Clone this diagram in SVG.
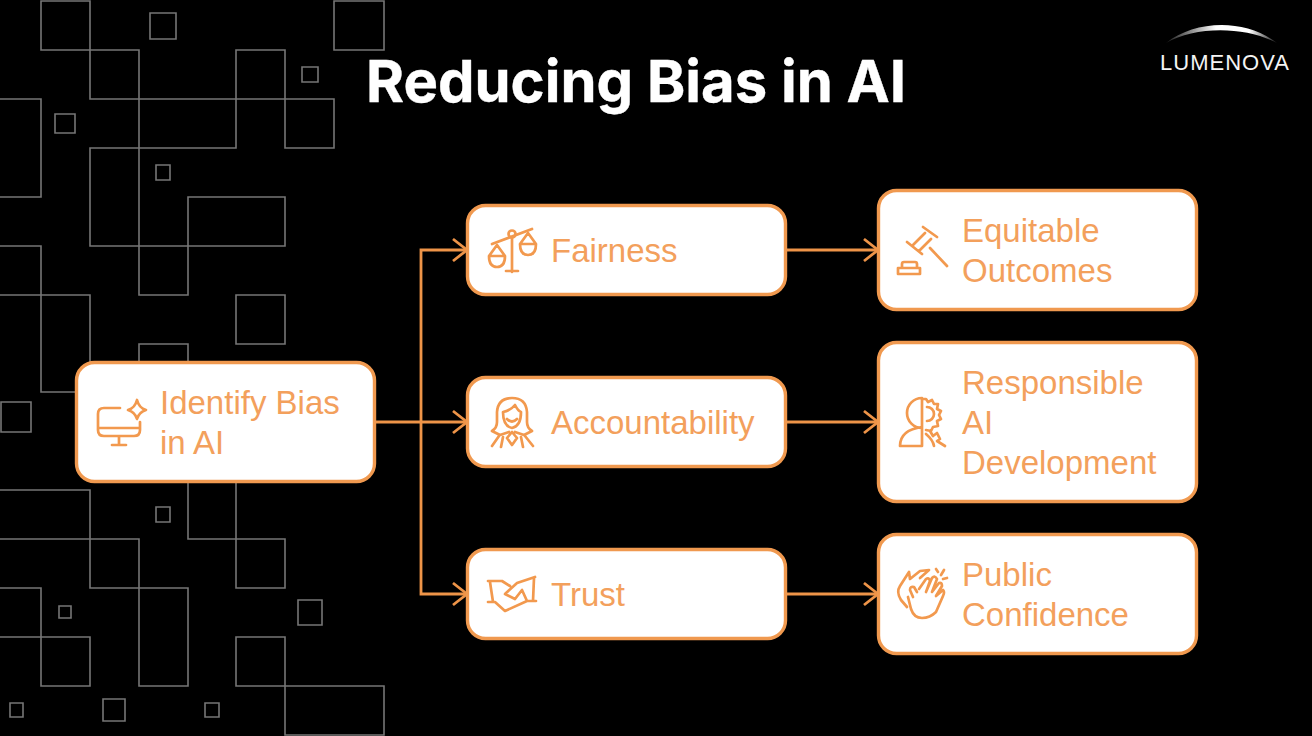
<svg xmlns="http://www.w3.org/2000/svg" width="1312" height="736" viewBox="0 0 1312 736">
<style>
.g{fill:none;stroke:#767676;stroke-width:1.6}
.n{fill:#fff;stroke:#F0994F;stroke-width:3.4}
.t{font-family:"Liberation Sans",Arial,sans-serif;font-size:33px;fill:#F3A05C}
.i{fill:none;stroke:#F2994E;stroke-width:2.7;stroke-linecap:round;stroke-linejoin:round}
.c{fill:none;stroke:#EE9448;stroke-width:2.8}
</style>
<defs>
<marker id="a" markerUnits="userSpaceOnUse" markerWidth="20" markerHeight="26" refX="17" refY="13" orient="auto"><path d="M3 2L17 13L3 24" fill="none" stroke="#EE9448" stroke-width="2.8"/></marker>
<linearGradient id="arc" x1="0" x2="1" y1="0" y2="0"><stop offset="0" stop-color="#fff" stop-opacity="0.1"/><stop offset="0.45" stop-color="#fff"/><stop offset="0.75" stop-color="#fff"/><stop offset="1" stop-color="#fff" stop-opacity="0.1"/></linearGradient>
</defs>
<rect width="1312" height="736" fill="#000"/>
<g id="background-grid">
<path class="g" d="M41 1H90V50H41Z M150 13H176V39H150Z M334 1H384V50H334Z M90 50H139V99H90Z M236 50H285V99H236Z M302 67H318V82H302Z M285 99H334V148H285Z M0 99H41V197H0 M55 114H75V133H55Z M139 99H236V148H139Z M90 148H139V246H90Z M156 165H170V180H156Z M188 197H285V246H188Z M139 246H188V295H139Z M0 246H41V392H76 M0 295H90V362 M236 295H285V344H236Z M139 362V344H188V362 M1 402H31V432H1Z M0 490H90V588H139V539H0 M188 483V539H236V483 M236 539H285V588H236Z M156 507H170V522H156Z M0 588H41V686H90V637H0 M139 588H188V686H139Z M59 606H71V618H59Z M298 600H322V625H298Z M236 637H285V686H236Z M285 686H384V735H285Z M10 703H23V717H10Z M103 699H125V721H103Z M205 703H219V717H205Z"/>
</g>
<text id="title" x="366" y="102" font-family="Inter,'Liberation Sans',sans-serif" font-size="58" font-weight="700" fill="#fff" stroke="#fff" stroke-width="0.4">Reducing Bias in AI</text>
<g id="logo">
<path d="M1166 43C1195 20 1245 18 1277 43C1245 26 1195 26 1166 43Z" fill="url(#arc)"/>
<text x="1160" y="70" font-family="'Liberation Sans',sans-serif" font-size="22" letter-spacing="1" fill="#f4f4f4" textLength="130">LUMENOVA</text>
</g>
<g id="connectors">
<path class="c" d="M375 422H467" marker-end="url(#a)"/>
<path class="c" d="M421 422V250H467" marker-end="url(#a)"/>
<path class="c" d="M421 422V594H467" marker-end="url(#a)"/>
<path class="c" d="M786 250H878" marker-end="url(#a)"/>
<path class="c" d="M786 422H878" marker-end="url(#a)"/>
<path class="c" d="M786 594H878" marker-end="url(#a)"/>
</g>
<g id="node-identify">
<rect class="n" x="76.500" y="362.500" width="298" height="119" rx="18"/>
<path class="i" d="M120 408H104Q98 408 98 414V430Q98 436 104 436H134Q140 436 140 430V422M98 428H140M119 436V444M112 445H126"/>
<path class="i" d="M137 400Q139 408 146 410Q139 412 137 419Q135 412 128 410Q135 408 137 400Z"/>
<text class="t" x="160" y="414">Identify Bias</text>
<text class="t" x="160" y="454">in AI</text>
</g>
<g id="node-fairness">
<rect class="n" x="467.500" y="205.500" width="318" height="89" rx="18"/>
<path class="i" d="M492 244L532 229M512 272V238M506 271H518"/>
<circle class="i" cx="512" cy="234" r="3.500"/>
<path class="i" d="M497 245L489 256Q489 267 497 267Q505 267 505 256L497 245ZM489 256H505M528 233L520 244Q520 255 528 255Q536 255 536 244L528 233ZM520 244H536"/>
<text class="t" x="551" y="262">Fairness</text>
</g>
<g id="node-accountability">
<rect class="n" x="467.500" y="377.500" width="318" height="89" rx="18"/>
<path class="i" d="M512 398Q498 398 497 412V422Q497 428 492 431L500 435L509 432M512 398Q526 398 527 412V422Q527 428 532 431L524 435L515 432M503 412Q510 411 515 405Q518 411 521 412Q521 426 512 428Q503 426 503 412ZM507 419Q512 424 517 419M499 436L492 446M503 437L501 447M512 432L507 438L512 445L517 438ZM521 437L523 447M525 436L533 446"/>
<text class="t" x="551" y="434">Accountability</text>
</g>
<g id="node-trust">
<rect class="n" x="467.500" y="549.500" width="318" height="89" rx="18"/>
<path class="i" d="M488 581H502L510 586M490 582L493 602M488 602H495L505 611L527 601L522 590L515 599L505 594L517 583L535 577M534 578L533 601M527 601H536"/>
<text class="t" x="551" y="606">Trust</text>
</g>
<g id="node-equitable">
<rect class="n" x="878.500" y="190.500" width="318" height="119" rx="18"/>
<path class="i" d="M923 227L937 237M907 242L922 254M913 245L925 233M919 251L931 239M930 248L947 266M898 268H920V274H898ZM902 268V264Q902 262 904 262H915Q917 262 917 264V268"/>
<text class="t" x="962" y="242">Equitable</text>
<text class="t" x="962" y="282">Outcomes</text>
</g>
<g id="node-responsible">
<rect class="n" x="878.500" y="342.500" width="318" height="159" rx="18"/>
<path class="i" d="M922 398A15 15 0 0 0 922 428ZM922 398V446H900Q900 430 922 427M922 399H926L928 402L932 400L934 404L938 404L937 409L941 411L939 415L941 419L937 421L938 426L933 427L931 431L926 430M927 407A7 7 0 0 1 927 421M930 431L933 436L937 433L940 439L937 441L945 446M926 434Q933 440 934 446"/>
<text class="t" x="962" y="394">Responsible</text>
<text class="t" x="962" y="434">AI</text>
<text class="t" x="962" y="474">Development</text>
</g>
<g id="node-public">
<rect class="n" x="878.500" y="534.500" width="318" height="119" rx="18"/>
<path class="i" d="M909 572L900 586Q896 592 901 600L907 607M909 572L910 579L920 571L929 570L920 578M913 597L910 590Q910 586 914 587L917 592M919 589L926 579Q929 577 930 581L926 592L932 578Q935 575 937 579L932 592L939 583Q942 582 942 586L936 596L943 590Q945 592 943 596L936 612Q930 618 922 618Q914 618 911 609L908 597"/>
<path class="i" d="M936 569L938 572M944 570L941 575M947 578L943 579"/>
<text class="t" x="962" y="586">Public</text>
<text class="t" x="962" y="626">Confidence</text>
</g>
</svg>
